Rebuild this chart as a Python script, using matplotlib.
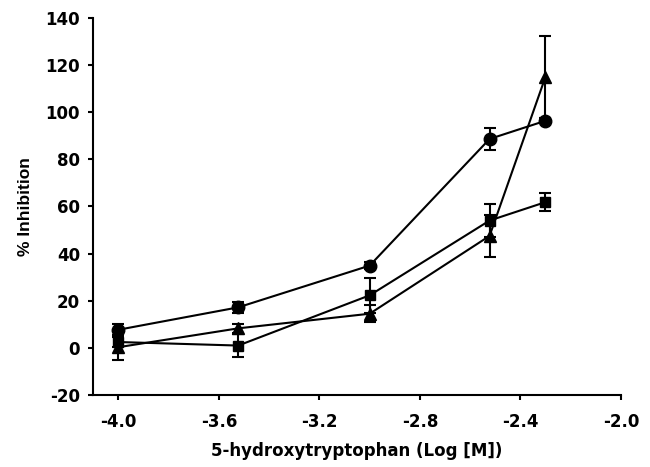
import numpy as np
import matplotlib
matplotlib.use("Agg")
import matplotlib.pyplot as plt

plt.rcParams["font.family"] = ["DejaVu Sans"]
plt.rcParams["font.weight"] = "bold"
plt.rcParams["axes.unicode_minus"] = False

log_conc = [-4.0, -3.523, -3.0, -2.523, -2.301]

circle_vals = [7.7, 17.2, 34.9, 88.6, 96.3]
circle_err = [2.5, 2.3, 1.6, 4.8, 1.0]

square_vals = [2.5, 1.0, 22.3, 54.0, 61.8]
square_err = [2.0, 4.8, 7.3, 7.0, 3.8]

triangle_vals = [0.3, 8.3, 14.5, 47.5, 114.8]
triangle_err = [5.3, 2.0, 3.5, 9.0, 17.3]

x_ticks = [-4.0, -3.6, -3.2, -2.8, -2.4, -2.0]
y_ticks = [-20, 0, 20, 40, 60, 80, 100, 120, 140]

fig = plt.figure(figsize=(6.5, 4.67), dpi=100)
# spine corner ~ (93, 395) px, top at ~18 px, right end ~621 px
ax = fig.add_axes([0.1426, 0.154, 0.8128, 0.808])

series = [
    (circle_vals, circle_err, "o", 9),
    (square_vals, square_err, "s", 7.5),
    (triangle_vals, triangle_err, "^", 9),
]
for vals, err, marker, ms in series:
    ax.errorbar(
        log_conc, vals, yerr=err,
        color="black", marker=marker, markersize=ms, linewidth=1.5,
        elinewidth=1.5, capsize=4.5, capthick=1.5,
    )

ax.set_xlim(-4.102, -2.0)
ax.set_ylim(-20, 140)
ax.set_xticks(x_ticks)
ax.set_xticklabels([f"{t:.1f}" for t in x_ticks])
ax.set_yticks(y_ticks)

for side in ("top", "right"):
    ax.spines[side].set_visible(False)
for side in ("left", "bottom"):
    ax.spines[side].set_linewidth(1.5)

ax.tick_params(direction="out", length=3.6, width=1.5, labelsize=12)
ax.tick_params(axis="x", pad=9.5)
ax.tick_params(axis="y", pad=5.5)
for lbl in ax.get_xticklabels() + ax.get_yticklabels():
    lbl.set_fontweight("bold")

ax.set_xlabel("5-hydroxytryptophan (Log [M])", fontsize=12, fontweight="bold", labelpad=8)
ax.set_ylabel("% Inhibition", fontsize=12.5, fontweight="bold", labelpad=9,
              family=["Liberation Sans", "DejaVu Sans"])

fig.savefig("out.png", dpi=100)
